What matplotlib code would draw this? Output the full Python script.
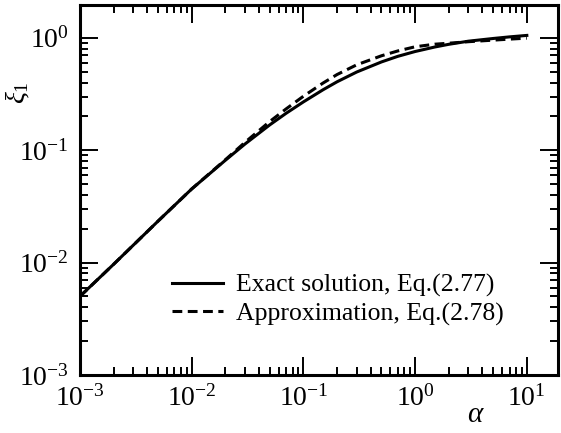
import numpy as np
import matplotlib
matplotlib.use("Agg")
import matplotlib.pyplot as plt
from matplotlib.ticker import LogLocator, NullFormatter

plt.rcParams['font.family'] = ['Liberation Serif', 'DejaVu Serif']
plt.rcParams['mathtext.fontset'] = 'custom'
plt.rcParams['mathtext.rm'] = 'Liberation Serif'
plt.rcParams['mathtext.it'] = 'Liberation Serif:italic'
plt.rcParams['axes.unicode_minus'] = False

# values
alpha = [0.001, 0.002, 0.005, 0.01, 0.02, 0.03, 0.05, 0.07, 0.1, 0.15, 0.2,
         0.3, 0.5, 0.7, 1.0, 1.5, 2.0, 3.0, 5.0, 7.0, 10.0]
xi_exact = [0.00501, 0.00966, 0.0234, 0.0452, 0.0813, 0.1135, 0.168, 0.213,
            0.269, 0.345, 0.406, 0.496, 0.610, 0.684, 0.755, 0.828, 0.875,
            0.933, 0.986, 1.019, 1.050]
xi_approx = [0.00501, 0.00966, 0.0234, 0.0452, 0.0822, 0.1175, 0.180, 0.233,
             0.302, 0.396, 0.471, 0.575, 0.692, 0.764, 0.832, 0.877, 0.895,
             0.923, 0.953, 0.973, 0.993]

label_exact = 'Exact solution, Eq.(2.77)'
label_approx = 'Approximation, Eq.(2.78)'

fig = plt.figure(figsize=(5.61, 4.33), dpi=100)
ax = fig.add_axes([0.1426, 0.134, 0.852, 0.854])

ax.plot(alpha, xi_exact, color='black', lw=2.2, label=label_exact)
ax.plot(alpha, xi_approx, color='black', lw=2.2, dashes=(3.2, 1.8),
        label=label_approx)

ax.set_xscale('log')
ax.set_yscale('log')
ax.set_xlim(1e-3, 19)
ax.set_ylim(1e-3, 1.95)

ax.xaxis.set_major_locator(LogLocator(base=10, numticks=10))
ax.yaxis.set_major_locator(LogLocator(base=10, numticks=10))
ax.xaxis.set_minor_locator(LogLocator(base=10, subs=np.arange(2, 10), numticks=20))
ax.yaxis.set_minor_locator(LogLocator(base=10, subs=np.arange(2, 10), numticks=20))
ax.xaxis.set_minor_formatter(NullFormatter())
ax.yaxis.set_minor_formatter(NullFormatter())

ax.tick_params(which='both', direction='in', top=True, right=True,
               labelsize=20, width=1.4)
ax.tick_params(which='major', length=13)
ax.tick_params(which='minor', length=6)
ax.tick_params(axis='x', pad=7)
ax.tick_params(axis='y', pad=8)

for s in ax.spines.values():
    s.set_linewidth(2.2)

ax.set_ylabel(r'$\xi_1$', fontsize=20)
ax.yaxis.set_label_coords(-0.10, 0.762)
ax.set_xlabel(r'$\alpha$', fontsize=21)
ax.xaxis.set_label_coords(0.828, -0.072)

ax.legend(loc='center left', bbox_to_anchor=(0.1925, 0.203), frameon=False,
          fontsize=18.5, borderpad=0, borderaxespad=0, handlelength=2.0,
          handletextpad=0.5, labelspacing=0.2)

fig.savefig('out.png', dpi=100)
